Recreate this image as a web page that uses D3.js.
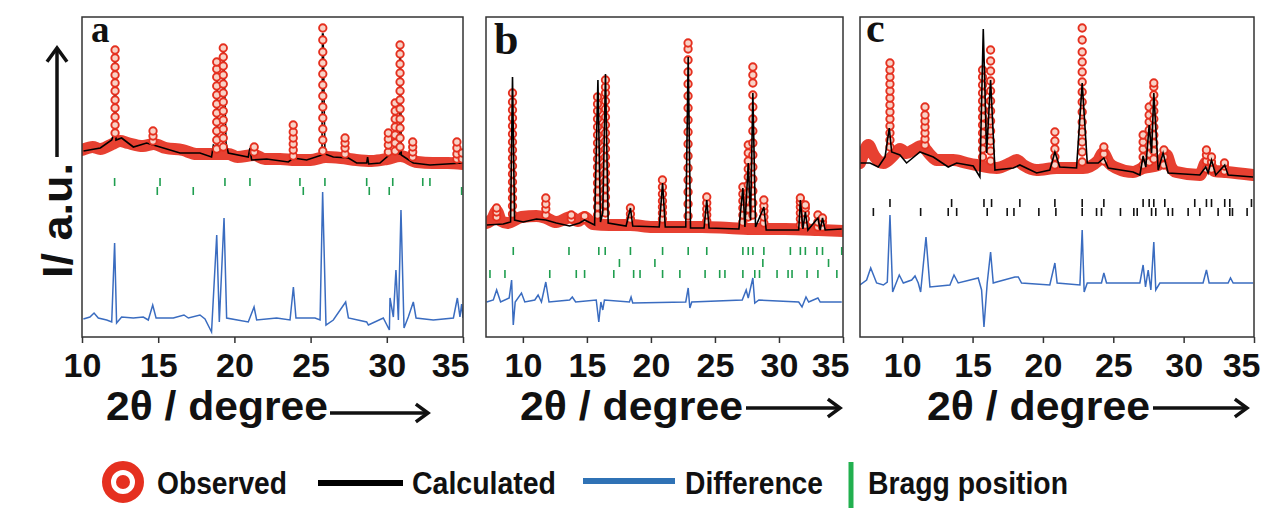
<!DOCTYPE html>
<html>
<head>
<meta charset="utf-8">
<script src="https://cdn.jsdelivr.net/npm/d3@7"></script>
<style>
  body { margin: 0; background: #fff; }
  svg text { font-family: "Liberation Sans", Arial, sans-serif; font-weight: bold; fill: #111; }
</style>
</head>
<body>
<svg id="chart" width="1266" height="510"></svg>
<script>
// x tick labels shared by all three panels
const xTicks = [10, 15, 20, 25, 30, 35];

// ---- panel a ----
const aBand = [[10,187],[10.7,190],[11.2,188],[12,193],[12.5,196],[13,194],[14,191],[14.7,193],[15.5,189],[16.6,187],[17.5,183],[18.5,183],[19.6,183],[20.2,180],[21.3,182],[22,178],[23,178],[24,177],[25,177],[26,180],[27,179],[28,177],[29,176],[30,178],[30.9,181],[32,175],[33,174],[34,174],[35,173]];
const aObs = [
  [12.17,[204,212,220,229,237,246,254,262,270,279,287]],
  [14.66,[196,201,206]],
  [18.84,[188,197,206,215,224,233,242,251,260,268,275]],
  [19.27,[190,199,208,217,226,235,244,253,262,271,280,289]],
  [21.3,[185,190]],
  [23.86,[181,187,193,199,205,212]],
  [25.8,[186,197,208,219,230,241,252,263,274,285,297,309]],
  [27.26,[183,189,194,199]],
  [30.1,[185,192,198,204]],
  [30.55,[186,194,202,210,218,226,234]],
  [30.87,[190,199,209,218,228,237,246,255,264,273,283,292]],
  [31.7,[180,185,190,195]],
  [34.6,[178,183,189,195]],
  [34.95,[178,184]]
];
const aCalc = [[10.1,186],[11.2,189],[11.95,197],[12.12,205],[12.15,285],[12.19,285],[12.23,197],[12.6,199],[13.37,190],[14.24,194],[15.12,190],[16.43,184],[17.74,184],[18.5,180],[18.62,192],[18.82,190],[18.84,268],[18.87,268],[18.9,190],[19.25,188],[19.27,285],[19.3,285],[19.45,194],[19.6,184],[20.91,180],[21.02,189],[21.13,177],[22.12,178],[23.54,175],[23.87,179],[24.74,177],[25.75,182],[25.78,303],[25.82,303],[25.94,183],[26.49,180],[27.48,179],[28.02,174],[28.68,174],[28.74,180],[28.81,173],[29.55,174],[30.39,185],[30.84,183],[30.86,288],[30.89,288],[30.95,182],[31.74,174],[32.83,172],[33.93,173],[35,174]];
const aDiff = [[10.09,18],[10.52,20],[10.79,24],[11.07,19],[11.62,17],[11.95,15],[12.14,94],[12.27,14],[12.6,20],[13.37,19],[14.02,20],[14.35,17],[14.64,32],[14.86,19],[15.99,19],[16.69,22],[16.98,19],[17.74,22],[18.07,18],[18.5,5],[18.84,102],[19.01,15],[19.32,119],[19.49,19],[20.91,15],[21.29,30],[21.46,17],[22.77,19],[23.65,17],[23.87,50],[24.04,19],[25.29,19],[25.62,17],[25.79,145],[26.01,12],[26.49,17],[27.3,35],[27.48,19],[28.68,15],[28.79,12],[29.77,19],[30.17,7],[30.21,39],[30.43,20],[30.6,67],[30.76,17],[30.93,127],[31.13,9],[31.41,20],[31.74,35],[31.92,19],[33.05,17],[34.37,19],[34.63,39],[34.8,20],[34.91,33],[35,19]];
const aBragg1 = [12.14,15.12,19.38,21.02,24.30,25.94,28.68,30.39,32.36,32.83];
const aBragg2 = [14.94,17.30,24.52,28.85,30.16,34.91];

// ---- panel b ----
const bBand = [[7.12,114],[7.6,118],[7.95,126],[8.3,116],[8.8,114],[9.9,120],[11.06,121],[11.79,119],[12.61,115],[13.78,120],[14.3,116],[14.82,120],[15.47,113],[16.76,112],[18.4,112],[20.13,110],[21.95,110],[24.02,110],[26.1,109],[28.17,108],[30.5,108],[33.09,107],[35,106]];
const bObs = [
  [7.95,[120,125,129]],
  [9.19,[123,131,139,147,155,163,171,179,187,195,203,211,219,227,235,244]],
  [11.79,[122,128,133,139]],
  [13.78,[118,122]],
  [14.82,[118,121]],
  [15.83,[122,130,138,146,154,162,170,178,186,194,202,210,218,226,233,240]],
  [16.45,[124,132,140,148,156,164,172,180,188,196,204,212,220,228,236,244,250,257]],
  [18.4,[118,123,129]],
  [20.9,[118,124,130,136,143,150,157]],
  [22.9,[121,133,145,157,169,181,193,205,217,229,241,253,265,277,288,294]],
  [24.36,[116,122,128,134,140]],
  [27.18,[115,122,129,136,143,150]],
  [27.6,[120,128,136,144,152,160,168,176,184,192]],
  [27.96,[122,134,146,158,170,182,194,206,218,230,242,254,262,270]],
  [28.82,[114,120,126,131,137]],
  [31.67,[112,118,124,130,135,139]],
  [32.06,[112,118,124,129,132]],
  [33.04,[110,115,122]],
  [33.4,[110,115,119]]
];
const bCalc = [[7.17,112],[8.47,113],[9.04,115],[9.19,260],[9.35,117],[10.02,115],[11.06,118],[11.79,117],[12.61,114],[13.65,111],[14.43,114],[14.82,117],[15.6,112],[15.86,257],[16.06,115],[16.24,124],[16.45,263],[16.66,114],[18.06,111],[18.4,129],[18.58,111],[20.65,110],[20.91,154],[21.12,110],[22.72,110],[22.91,280],[23.09,109],[24.15,109],[24.36,137],[24.54,109],[26.87,108],[27.18,149],[27.34,110],[27.6,174],[27.78,117],[27.96,244],[28.17,110],[28.82,130],[29.0,107],[31.54,107],[31.67,137],[31.87,108],[32.06,125],[32.26,107],[33.04,119],[33.22,107],[33.4,119],[33.61,107],[34.9,108]];
const bDiff = [[7.17,35],[7.69,37],[7.95,47],[8.26,35],[8.93,39],[9.12,57],[9.25,12],[9.4,35],[9.89,44],[10.15,35],[10.93,37],[11.19,42],[11.45,35],[11.79,55],[12.04,35],[13.65,37],[13.86,40],[14.12,35],[15.73,37],[15.93,15],[16.09,35],[16.24,27],[16.37,37],[18.32,35],[18.45,40],[18.58,34],[22.72,35],[22.91,49],[23.04,29],[23.19,35],[27.13,37],[27.44,47],[27.6,39],[27.96,59],[28.11,34],[28.43,37],[31.54,35],[31.8,30],[32.11,40],[32.32,35],[33.04,39],[33.22,35],[34.9,35]];
const bBragg1 = [9.25,13.6,15.93,16.43,18.4,20.91,22.91,24.36,27.18,27.6,27.96,28.82,30.89,31.67,32.06,32.96,33.4,34.9];
const bBragg2 = [17.54,20.31,28.74,33.87];
const bBragg3 = [7.43,8.6,12.1,14.17,14.82,17.1,18.65,19.15,20.91,22.26,24.23,25.37,25.78,27.18,28.11,28.48,29.85,30.71,31.02,32.19,33.04,34.52];

// ---- panel c ----
const cBand = [[7,174],[7.3,185],[7.59,192],[7.9,184],[8.07,180],[8.66,174],[9.4,182],[9.84,188],[10.3,184],[10.79,187],[11.38,191],[12.0,182],[12.45,177],[13.63,177],[14.58,174],[15.29,172],[16.71,169],[17.7,174],[18.13,177],[18.6,172],[19.55,167],[20.97,169],[22.86,169],[23.9,176],[24.28,184],[24.7,174],[25.23,169],[26.41,165],[27.12,169],[28.2,172],[28.78,182],[29.1,170],[29.49,165],[31.15,162],[31.62,175],[32.2,166],[33.04,165],[34.94,162]];
const cObs = [
  [9.13,[190,197,204,211,218,225,232,239,246,253,260,267,274]],
  [11.62,[192,198,204,210,216,222,230]],
  [15.71,[180,188,196,204,212,220,228,236,244,252,260,267]],
  [16.28,[176,186,196,206,216,226,236,246,256,266,276,287]],
  [20.85,[172,180,188,196,205]],
  [22.79,[175,185,195,205,215,225,235,245,255,265,275,285,297,309]],
  [24.33,[176,183,190]],
  [27.12,[172,180,188,195,202]],
  [27.55,[175,183,191,199,207,215,222,230]],
  [27.88,[178,186,194,202,210,218,226,234,242,250,254]],
  [28.6,[172,180,187]],
  [31.62,[168,176,182,187]],
  [31.98,[168,175,180]],
  [32.9,[166,171,174]]
];
const cCalc = [[7.0,174],[7.71,174],[8.3,170],[8.78,180],[9.08,209],[9.25,185],[9.84,182],[10.31,174],[11.26,185],[12.21,180],[13.27,170],[13.87,174],[15.05,171],[15.52,160],[15.76,308],[16.0,184],[16.28,257],[16.59,167],[17.89,169],[18.36,172],[19.55,164],[20.49,167],[20.85,185],[21.2,170],[22.39,169],[22.79,254],[23.15,174],[23.93,174],[24.33,179],[24.64,169],[26.41,165],[26.89,162],[27.12,181],[27.31,170],[27.55,212],[27.72,184],[27.88,244],[28.19,167],[28.54,184],[28.9,164],[31.15,162],[31.57,170],[31.74,164],[31.98,177],[32.28,162],[32.92,172],[33.16,162],[34.94,160]];
const cDiff = [[7.0,52],[7.47,57],[7.76,69],[8.18,54],[8.66,52],[8.94,55],[9.13,122],[9.32,45],[9.79,62],[10.08,54],[10.67,57],[10.91,61],[11.14,54],[11.31,45],[11.69,100],[11.97,50],[13.39,52],[13.68,62],[13.98,54],[15.4,59],[15.64,47],[15.81,10],[16.04,54],[16.28,85],[16.47,54],[16.71,55],[18.01,60],[18.25,60],[18.48,54],[20.49,52],[20.85,74],[21.01,54],[22.63,52],[22.79,107],[22.93,45],[23.15,54],[24.16,54],[24.33,64],[24.52,54],[26.89,54],[27.12,72],[27.29,50],[27.48,67],[27.67,47],[27.88,95],[28.02,47],[28.31,54],[31.38,54],[31.62,67],[31.81,54],[33.16,54],[33.33,59],[33.52,54],[34.94,54]];
const cBragg1 = [9.13,13.51,15.81,16.35,18.36,20.85,22.79,24.33,27.12,27.55,27.88,28.66,30.79,31.62,31.98,32.92,33.28,34.82];
const cBragg2 = [7.95,11.31,13.27,13.87,16.04,17.46,17.94,19.71,20.92,22.79,23.81,24.16,25.51,26.46,26.70,27.72,28.02,28.90,29.21,30.32,31.15,32.45,33.28,33.47,34.51];

const RED = "#e5301f", BLUE = "#3a6cc0", GREEN = "#1f9e4f";

const panels = [
  { id: "a", left: 82, right: 463, xDomain: [10, 35], band: aBand, obs: aObs, calc: aCalc, diff: aDiff,
    bragg: [{ ticks: aBragg1, level: 155 }, { ticks: aBragg2, level: 146 }], braggColor: GREEN, calcBehind: true,
    letter: { x: 91, y: 42, size: 37 }, label: { x: 106, len: 222, arrow: [330, 428], arrowY: 413 } },
  { id: "b", left: 486, right: 843, xDomain: [7.12, 35], band: bBand, obs: bObs, calc: bCalc, diff: bDiff,
    bragg: [{ ticks: bBragg1, level: 86 }, { ticks: bBragg2, level: 74 }, { ticks: bBragg3, level: 63 }], braggColor: GREEN, calcBehind: false,
    letter: { x: 494, y: 54, size: 44 }, label: { x: 520, len: 223, arrow: [746, 840], arrowY: 408 } },
  { id: "c", left: 860, right: 1254, xDomain: [7, 35], band: cBand, obs: cObs, calc: cCalc, diff: cDiff,
    bragg: [{ ticks: cBragg1, level: 134 }, { ticks: cBragg2, level: 125 }], braggColor: "#111", calcBehind: false,
    letter: { x: 866, y: 42, size: 42 }, label: { x: 927, len: 223, arrow: [1153, 1247], arrowY: 408 } }
];

const plotTop = 17, plotBottom = 337;
const svg = d3.select("#chart");

function drawArrow(g, x1, y1, x2, y2, head) {
  // straight shaft with an open V head at (x2, y2)
  const ang = Math.atan2(y2 - y1, x2 - x1);
  g.append("line").attr("x1", x1).attr("y1", y1).attr("x2", x2).attr("y2", y2)
    .attr("stroke", "#111").attr("stroke-width", 3.5);
  const a1 = ang + Math.PI * 0.8, a2 = ang - Math.PI * 0.8;
  g.append("path")
    .attr("d", `M${x2 + head * Math.cos(a1)},${y2 + head * Math.sin(a1)} L${x2},${y2} L${x2 + head * Math.cos(a2)},${y2 + head * Math.sin(a2)}`)
    .attr("fill", "none").attr("stroke", "#111").attr("stroke-width", 3.5).attr("stroke-linejoin", "miter");
}

panels.forEach(p => {
  const x = d3.scaleLinear().domain(p.xDomain).range([p.left, p.right]);
  const y = d3.scaleLinear().domain([0, 320]).range([plotBottom, plotTop]);
  const g = svg.append("g");

  g.append("clipPath").attr("id", "clip-" + p.id)
    .append("rect").attr("x", p.left).attr("y", plotTop).attr("width", p.right - p.left).attr("height", plotBottom - plotTop);
  const plot = g.append("g").attr("clip-path", `url(#clip-${p.id})`);

  const line = d3.line().x(d => x(d[0])).y(d => y(d[1]));
  const smooth = d3.line().x(d => x(d[0])).y(d => y(d[1])).curve(d3.curveMonotoneX);

  // observed background: dense points merge into a thick band
  plot.append("path").datum(p.band).attr("d", smooth)
    .attr("fill", "none").attr("stroke", RED).attr("stroke-width", 12)
    .attr("stroke-linejoin", "round").attr("stroke-linecap", "round").attr("opacity", 0.92);

  const calcPath = () => plot.append("path").datum(p.calc).attr("d", line)
    .attr("fill", "none").attr("stroke", "#000").attr("stroke-width", 1.6);
  if (p.calcBehind) calcPath();

  // observed points stacked on the sharp peaks
  const obsPts = p.obs.flatMap(([tt, vals]) => vals.map(v => [tt, v]));
  plot.append("g").selectAll("circle").data(obsPts).join("circle")
    .attr("cx", d => x(d[0])).attr("cy", d => y(d[1])).attr("r", 3.7)
    .attr("fill", "#f8d2c6").attr("stroke", RED).attr("stroke-width", 1.9);

  if (!p.calcBehind) calcPath();

  // Bragg positions
  p.bragg.forEach(row => {
    plot.append("g").selectAll("line").data(row.ticks).join("line")
      .attr("x1", d => x(d)).attr("x2", d => x(d))
      .attr("y1", y(row.level) - 4).attr("y2", y(row.level) + 4)
      .attr("stroke", p.braggColor).attr("stroke-width", 1.6);
  });

  // difference curve
  plot.append("path").datum(p.diff).attr("d", line)
    .attr("fill", "none").attr("stroke", BLUE).attr("stroke-width", 1.5);

  // frame
  g.append("rect").attr("x", p.left).attr("y", plotTop).attr("width", p.right - p.left).attr("height", plotBottom - plotTop)
    .attr("fill", "none").attr("stroke", "#333").attr("stroke-width", 1.5);

  // x axis
  const ax = g.append("g").attr("transform", `translate(0,${plotBottom})`)
    .call(d3.axisBottom(x).tickValues(xTicks).tickSize(6).tickFormat(d3.format("d")));
  ax.select(".domain").remove();
  ax.selectAll(".tick line").attr("stroke", "#333").attr("stroke-width", 1.5);
  ax.selectAll(".tick text").attr("y", 40).attr("dy", 0)
    .style("font-size", "34px").style("font-family", '"Liberation Sans", Arial, sans-serif')
    .style("font-weight", "bold").attr("fill", "#111");
  // the last label sits just inside the right edge
  ax.selectAll(".tick text").filter(d => d === 35).attr("text-anchor", "end").attr("x", 6);

  // axis title with arrow
  g.append("text").attr("x", p.label.x).attr("y", 420)
    .attr("textLength", p.label.len).attr("lengthAdjust", "spacingAndGlyphs")
    .style("font-size", "40px").text("2θ / degree");
  drawArrow(g, p.label.arrow[0], p.label.arrowY, p.label.arrow[1], p.label.arrowY, 15);

  // panel letter
  g.append("text").attr("x", p.letter.x).attr("y", p.letter.y)
    .style("font-family", '"Liberation Serif", "Times New Roman", serif')
    .style("font-size", p.letter.size + "px").text(p.id);
});

// y axis title
svg.append("text").attr("transform", "translate(72,278) rotate(-90)")
  .attr("textLength", 115).attr("lengthAdjust", "spacingAndGlyphs")
  .style("font-size", "42px").text("I/ a.u.");
drawArrow(svg, 57, 157, 57, 48, 17);

// legend
const leg = svg.append("g");
leg.append("circle").attr("cx", 123).attr("cy", 482).attr("r", 16.5)
  .attr("fill", "#fff").attr("stroke", RED).attr("stroke-width", 9);
leg.append("circle").attr("cx", 123).attr("cy", 482).attr("r", 7).attr("fill", RED);
leg.append("text").attr("x", 157).attr("y", 494).attr("textLength", 130).attr("lengthAdjust", "spacingAndGlyphs")
  .style("font-size", "31px").text("Observed");
leg.append("line").attr("x1", 318).attr("x2", 403).attr("y1", 483).attr("y2", 483)
  .attr("stroke", "#000").attr("stroke-width", 6);
leg.append("text").attr("x", 412).attr("y", 494).attr("textLength", 144).attr("lengthAdjust", "spacingAndGlyphs")
  .style("font-size", "31px").text("Calculated");
leg.append("line").attr("x1", 583).attr("x2", 675).attr("y1", 481).attr("y2", 481)
  .attr("stroke", "#2f72b5").attr("stroke-width", 6);
leg.append("text").attr("x", 685).attr("y", 494).attr("textLength", 138).attr("lengthAdjust", "spacingAndGlyphs")
  .style("font-size", "31px").text("Difference");
leg.append("line").attr("x1", 851).attr("x2", 851).attr("y1", 462).attr("y2", 508)
  .attr("stroke", "#22b04f").attr("stroke-width", 5);
leg.append("text").attr("x", 868).attr("y", 494).attr("textLength", 200).attr("lengthAdjust", "spacingAndGlyphs")
  .style("font-size", "31px").text("Bragg position");
</script>
</body>
</html>
